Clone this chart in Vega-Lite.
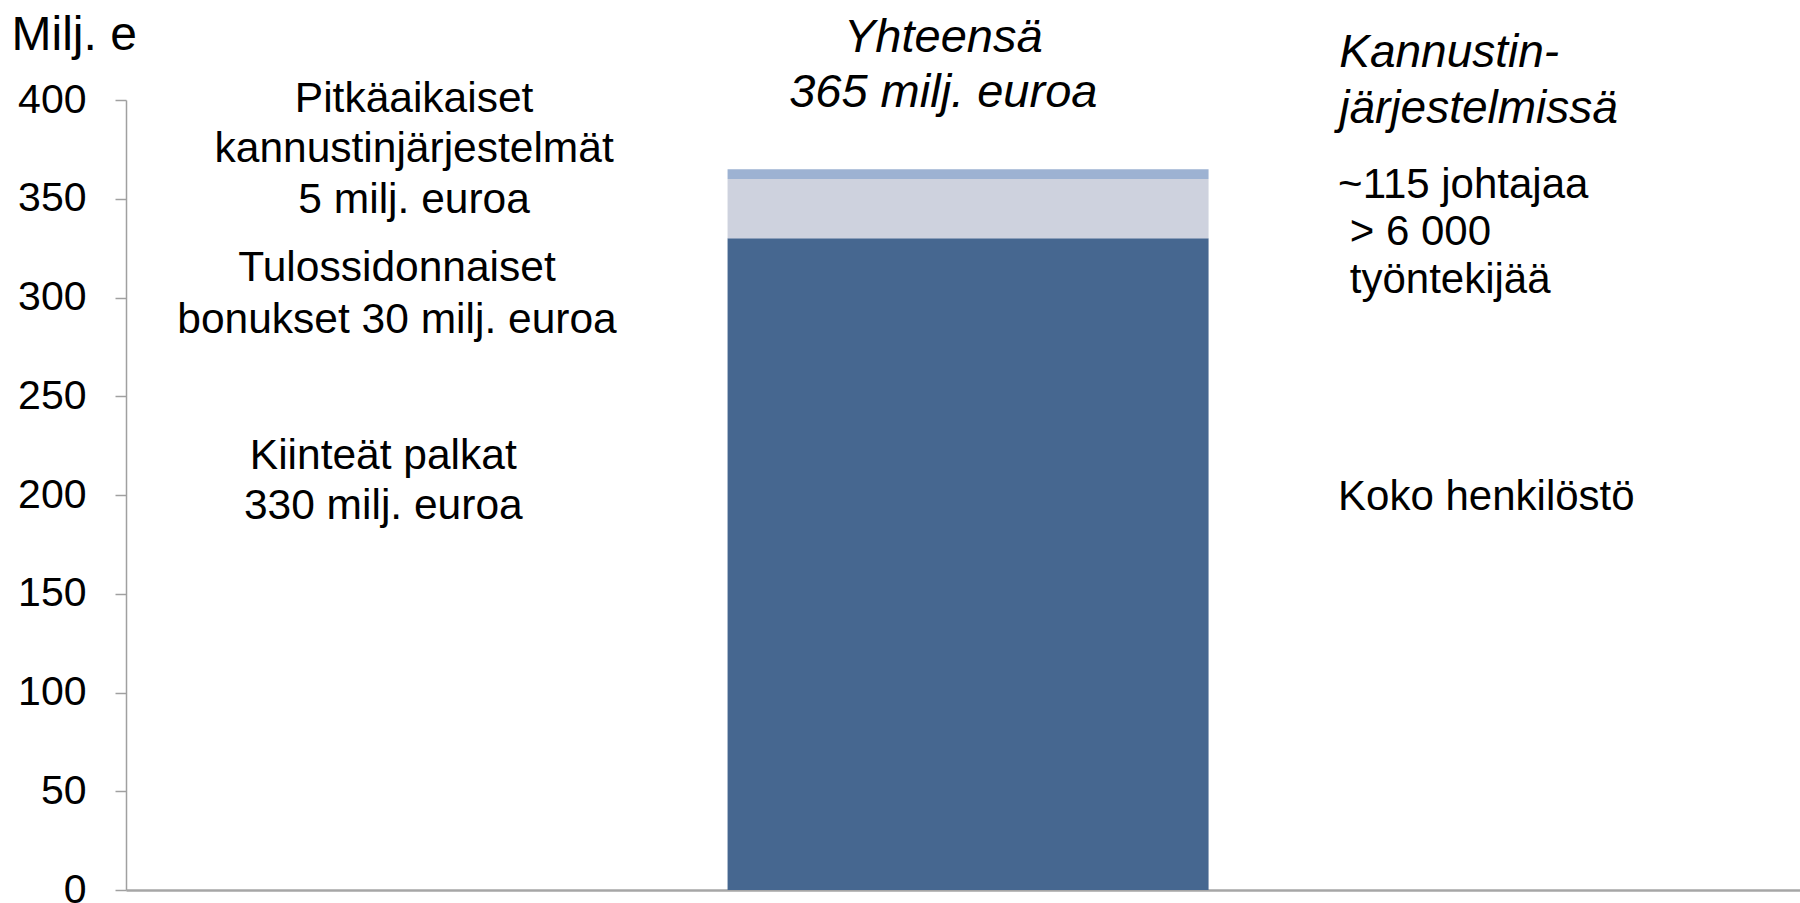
{
  "$schema": "https://vega.github.io/schema/vega-lite/v6.json",
  "width": 1674,
  "height": 790,
  "autosize": {"type": "none"},
  "padding": {"left": 126, "top": 100, "right": 0, "bottom": 13},
  "background": "white",
  "config": {
    "view": {"stroke": null},
    "font": "Liberation Sans",
    "text": {"font": "Liberation Sans", "color": "black", "lineBreak": "\n"}
  },
  "datasets": {
    "palkat": [
      {"sarake": "Yhteensä", "osa": "Kiinteät palkat", "arvo": 330},
      {"sarake": "Yhteensä", "osa": "Tulossidonnaiset bonukset", "arvo": 30},
      {"sarake": "Yhteensä", "osa": "Pitkäaikaiset kannustinjärjestelmät", "arvo": 5}
    ],
    "tekstit": [
      {"ryhma": "vasen1", "sarake": "vasen", "taso": 400.6, "teksti": "Pitkäaikaiset\nkannustinjärjestelmät\n5 milj. euroa"},
      {"ryhma": "vasen2", "sarake": "vasen", "taso": 314.8, "teksti": "Tulossidonnaiset\nbonukset 30 milj. euroa"},
      {"ryhma": "vasen3", "sarake": "vasen", "taso": 220, "teksti": "Kiinteät palkat\n330 milj. euroa"},
      {"ryhma": "otsikko", "sarake": "Yhteensä", "taso": 431.4, "teksti": "Yhteensä\n365 milj. euroa"},
      {"ryhma": "oikea1", "sarake": "oikea", "taso": 423.6, "teksti": "Kannustin-\njärjestelmissä"},
      {"ryhma": "oikea2", "sarake": "oikea", "taso": 357.2, "teksti": "~115 johtajaa\n\u200b\u00a0> 6 000\n\u200b\u00a0työntekijää"},
      {"ryhma": "oikea3", "sarake": "oikea", "taso": 199, "teksti": "Koko henkilöstö"}
    ]
  },
  "encoding": {
    "x": {
      "field": "sarake",
      "type": "nominal",
      "scale": {"domain": ["vasen", "Yhteensä", "oikea"], "paddingInner": 0, "paddingOuter": 0.02, "align": 0.73},
      "axis": {"labels": false, "ticks": false, "title": null, "domainColor": "#A6A6A6", "domainWidth": 2.5}
    }
  },
  "layer": [
    {
      "data": {"name": "palkat"},
      "mark": {"type": "bar", "width": {"band": 0.8735}},
      "encoding": {
        "y": {
          "field": "arvo",
          "type": "quantitative",
          "stack": "zero",
          "scale": {"domain": [0, 400], "nice": false},
          "axis": {
            "values": [0, 50, 100, 150, 200, 250, 300, 350, 400],
            "grid": false,
            "domainColor": "#A0A0A0",
            "domainWidth": 1.5,
            "tickColor": "#A0A0A0",
            "tickWidth": 1.5,
            "tickSize": 11,
            "labelFontSize": 41,
            "labelColor": "black",
            "labelFont": "Liberation Sans",
            "labelPadding": 29,
            "title": "Milj. e",
            "titleAngle": 0,
            "titleAlign": "left",
            "titleBaseline": "alphabetic",
            "titleX": -115,
            "titleY": -51,
            "titleFontSize": 48,
            "titleFontWeight": "normal",
            "titleColor": "black",
            "titleFont": "Liberation Sans"
          }
        },
        "color": {
          "field": "osa",
          "type": "nominal",
          "scale": {
            "domain": ["Kiinteät palkat", "Tulossidonnaiset bonukset", "Pitkäaikaiset kannustinjärjestelmät"],
            "range": ["#466790", "#CED2DE", "#9DB2D2"]
          },
          "legend": null
        },
        "order": {"field": "arvo", "sort": "descending"}
      }
    },
    {
      "data": {"name": "tekstit"},
      "transform": [{"filter": "datum.ryhma === 'vasen1'"}],
      "mark": {"type": "text", "align": "center", "baseline": "middle", "fontSize": 42.5, "lineHeight": 50.5, "lineBreak": "\n"},
      "encoding": {
        "x": {"field": "sarake", "type": "nominal", "bandPosition": 0.494},
        "y": {"field": "taso", "type": "quantitative"},
        "text": {"field": "teksti"}
      }
    },
    {
      "data": {"name": "tekstit"},
      "transform": [{"filter": "datum.ryhma === 'vasen2'"}],
      "mark": {"type": "text", "align": "center", "baseline": "middle", "fontSize": 42.5, "lineHeight": 51.5, "lineBreak": "\n"},
      "encoding": {
        "x": {"field": "sarake", "type": "nominal", "bandPosition": 0.463},
        "y": {"field": "taso", "type": "quantitative"},
        "text": {"field": "teksti"}
      }
    },
    {
      "data": {"name": "tekstit"},
      "transform": [{"filter": "datum.ryhma === 'vasen3'"}],
      "mark": {"type": "text", "align": "center", "baseline": "middle", "fontSize": 42.5, "lineHeight": 50.5, "lineBreak": "\n"},
      "encoding": {
        "x": {"field": "sarake", "type": "nominal", "bandPosition": 0.438},
        "y": {"field": "taso", "type": "quantitative"},
        "text": {"field": "teksti"}
      }
    },
    {
      "data": {"name": "tekstit"},
      "transform": [{"filter": "datum.ryhma === 'otsikko'"}],
      "mark": {"type": "text", "align": "center", "baseline": "middle", "fontSize": 47, "fontStyle": "italic", "lineHeight": 55, "lineBreak": "\n"},
      "encoding": {
        "x": {"field": "sarake", "type": "nominal", "bandPosition": 0.455},
        "y": {"field": "taso", "type": "quantitative"},
        "text": {"field": "teksti"}
      }
    },
    {
      "data": {"name": "tekstit"},
      "transform": [{"filter": "datum.ryhma === 'oikea1'"}],
      "mark": {"type": "text", "align": "left", "baseline": "middle", "fontSize": 46, "fontStyle": "italic", "lineHeight": 56, "lineBreak": "\n"},
      "encoding": {
        "x": {"field": "sarake", "type": "nominal", "bandPosition": 0.174},
        "y": {"field": "taso", "type": "quantitative"},
        "text": {"field": "teksti"}
      }
    },
    {
      "data": {"name": "tekstit"},
      "transform": [{"filter": "datum.ryhma === 'oikea2' || datum.ryhma === 'oikea3'"}],
      "mark": {"type": "text", "align": "left", "baseline": "middle", "fontSize": 42, "lineHeight": 47.5, "lineBreak": "\n"},
      "encoding": {
        "x": {"field": "sarake", "type": "nominal", "bandPosition": 0.172},
        "y": {"field": "taso", "type": "quantitative"},
        "text": {"field": "teksti"}
      }
    }
  ]
}
